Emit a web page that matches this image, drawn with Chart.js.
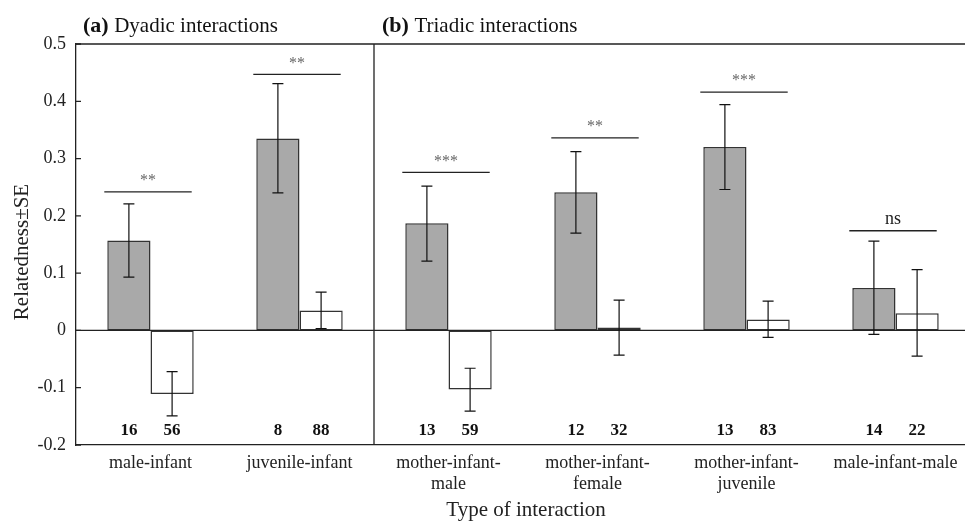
<!DOCTYPE html>
<html>
<head>
<meta charset="utf-8">
<script src="https://cdn.jsdelivr.net/npm/chart.js@4.4.1/dist/chart.umd.min.js"></script>
<style>
  html, body { margin: 0; padding: 0; background: #fff; overflow: hidden; }
  canvas { display: block; }
</style>
</head>
<body>
<canvas id="chart" width="970" height="522" style="width:970px;height:522px"></canvas>
<script>
// Relatedness by type of interaction
const categories = [
    "male-infant",
    "juvenile-infant",
    ["mother-infant-", "male"],
    ["mother-infant-", "female"],
    ["mother-infant-", "juvenile"],
    "male-infant-male"
]

const shadedValues = [0.157, 0.335, 0.187, 0.241, 0.320, 0.074]
const shadedLow    = [0.093, 0.240, 0.121, 0.170, 0.246, -0.007]
const shadedHigh   = [0.221, 0.431, 0.252, 0.312, 0.394, 0.156]
const shadedN      = [16, 8, 13, 12, 13, 14]

const openValues = [-0.111, 0.035, -0.103, 0.005, 0.019, 0.030]
const openLow    = [-0.149, 0.003, -0.141, -0.043, -0.012, -0.045]
const openHigh   = [-0.072, 0.067, -0.066, 0.053, 0.051, 0.106]
const openN      = [56, 88, 59, 32, 83, 22]

const sigLevels = [0.242, 0.447, 0.276, 0.336, 0.416, 0.174]
const sigLabels = ["**", "**", "***", "**", "***", "ns"]

const yTicks = [-0.2, -0.1, 0, 0.1, 0.2, 0.3, 0.4, 0.5]

const serif = "'Liberation Serif', 'DejaVu Serif', serif"
const ink = "#222"

const extras = {
    id: "extras",
    afterDatasetsDraw(chart) {
        const ctx = chart.ctx
        const area = chart.chartArea
        const x = chart.scales.x
        const y = chart.scales.y
        const shaded = chart.getDatasetMeta(0).data
        const open = chart.getDatasetMeta(1).data

        ctx.save()
        ctx.strokeStyle = ink
        ctx.lineWidth = 1.3

        // top border, zero line, divider between dyadic and triadic
        ctx.beginPath()
        ctx.moveTo(area.left, area.top)
        ctx.lineTo(area.right, area.top)
        const y0 = y.getPixelForValue(0)
        ctx.moveTo(area.left, y0)
        ctx.lineTo(area.right, y0)
        const divX = (x.getPixelForValue(1) + x.getPixelForValue(2)) / 2
        ctx.moveTo(divX, area.top)
        ctx.lineTo(divX, area.bottom)
        ctx.stroke()

        // inward ticks on the y axis
        ctx.beginPath()
        for (const v of yTicks) {
            const py = y.getPixelForValue(v)
            ctx.moveTo(area.left, py)
            ctx.lineTo(area.left + 5, py)
        }
        ctx.stroke()

        // error bars
        ctx.lineWidth = 1.2
        ctx.strokeStyle = "#111"
        const drawErr = (bars, lows, highs) => {
            bars.forEach((bar, i) => {
                const pl = y.getPixelForValue(lows[i])
                const ph = y.getPixelForValue(highs[i])
                ctx.beginPath()
                ctx.moveTo(bar.x, pl)
                ctx.lineTo(bar.x, ph)
                ctx.moveTo(bar.x - 5.5, pl)
                ctx.lineTo(bar.x + 5.5, pl)
                ctx.moveTo(bar.x - 5.5, ph)
                ctx.lineTo(bar.x + 5.5, ph)
                ctx.stroke()
            })
        }
        drawErr(shaded, shadedLow, shadedHigh)
        drawErr(open, openLow, openHigh)

        // sample sizes
        ctx.fillStyle = "#111"
        ctx.font = "bold 17px " + serif
        ctx.textAlign = "center"
        ctx.textBaseline = "middle"
        shaded.forEach((bar, i) => ctx.fillText(String(shadedN[i]), bar.x, 431))
        open.forEach((bar, i) => ctx.fillText(String(openN[i]), bar.x, 431))

        // significance lines
        ctx.strokeStyle = ink
        ctx.lineWidth = 1.3
        for (let i = 0; i < sigLevels.length; i++) {
            const x1 = shaded[i].x - shaded[i].width / 2 - 3
            const x2 = open[i].x + open[i].width / 2 - 2
            const py = y.getPixelForValue(sigLevels[i])
            ctx.beginPath()
            ctx.moveTo(x1, py)
            ctx.lineTo(x2, py)
            ctx.stroke()
            if (sigLabels[i] == "ns") {
                ctx.fillStyle = ink
                ctx.font = "18px " + serif
                ctx.fillText(sigLabels[i], (x1 + x2) / 2, py - 11)
            } else {
                ctx.fillStyle = "#666"
                ctx.font = "16px " + serif
                ctx.fillText(sigLabels[i], (x1 + x2) / 2, py - 11)
            }
        }

        // panel titles
        ctx.textAlign = "left"
        ctx.fillStyle = "#111"
        const panelTitle = (px, tag, text) => {
            ctx.font = "bold 22px " + serif
            ctx.fillText(tag, px, 26)
            const w = ctx.measureText(tag + " ").width
            ctx.font = "21px " + serif
            ctx.fillText(text, px + w, 26)
        }
        panelTitle(83, "(a)", "Dyadic interactions")
        panelTitle(382, "(b)", "Triadic interactions")

        // axis titles
        ctx.textAlign = "center"
        ctx.fillStyle = ink
        ctx.font = "21px " + serif
        ctx.fillText("Type of interaction", (area.left + area.right) / 2 + 3, 510)
        ctx.translate(22, 252)
        ctx.rotate(-Math.PI / 2)
        ctx.fillText("Relatedness±SE", 0, 0)
        ctx.restore()
    }
}

new Chart(document.getElementById("chart"), {
    type: "bar",
    data: {
        labels: categories,
        datasets: [
            {
                label: "shaded",
                data: shadedValues,
                backgroundColor: "#a9a9a9",
                borderColor: "#333",
                borderWidth: 1.5,
                borderSkipped: false
            },
            {
                label: "open",
                data: openValues,
                backgroundColor: "#ffffff",
                borderColor: "#333",
                borderWidth: 1.5,
                borderSkipped: false
            }
        ]
    },
    options: {
        responsive: false,
        animation: false,
        categoryPercentage: 0.58,
        barPercentage: 1.0,
        layout: { padding: { top: 44, left: 0, right: 0, bottom: 0 } },
        plugins: {
            legend: { display: false },
            tooltip: { enabled: false }
        },
        scales: {
            x: {
                grid: { display: false, drawTicks: false },
                border: { display: true, color: ink, width: 1.3 },
                ticks: {
                    color: ink,
                    font: { family: serif, size: 18 },
                    padding: 7,
                    maxRotation: 0,
                    autoSkip: false
                },
                afterFit(scale) { scale.height = 77 }
            },
            y: {
                min: -0.2,
                max: 0.5,
                grid: { display: false, drawTicks: false },
                border: { display: true, color: ink, width: 1.3 },
                ticks: {
                    stepSize: 0.1,
                    color: ink,
                    font: { family: serif, size: 18 },
                    padding: 10,
                    callback: (v) => String(Math.round(v * 10) / 10)
                },
                afterFit(scale) { scale.width = 76 }
            }
        }
    },
    plugins: [extras]
})
</script>
</body>
</html>
